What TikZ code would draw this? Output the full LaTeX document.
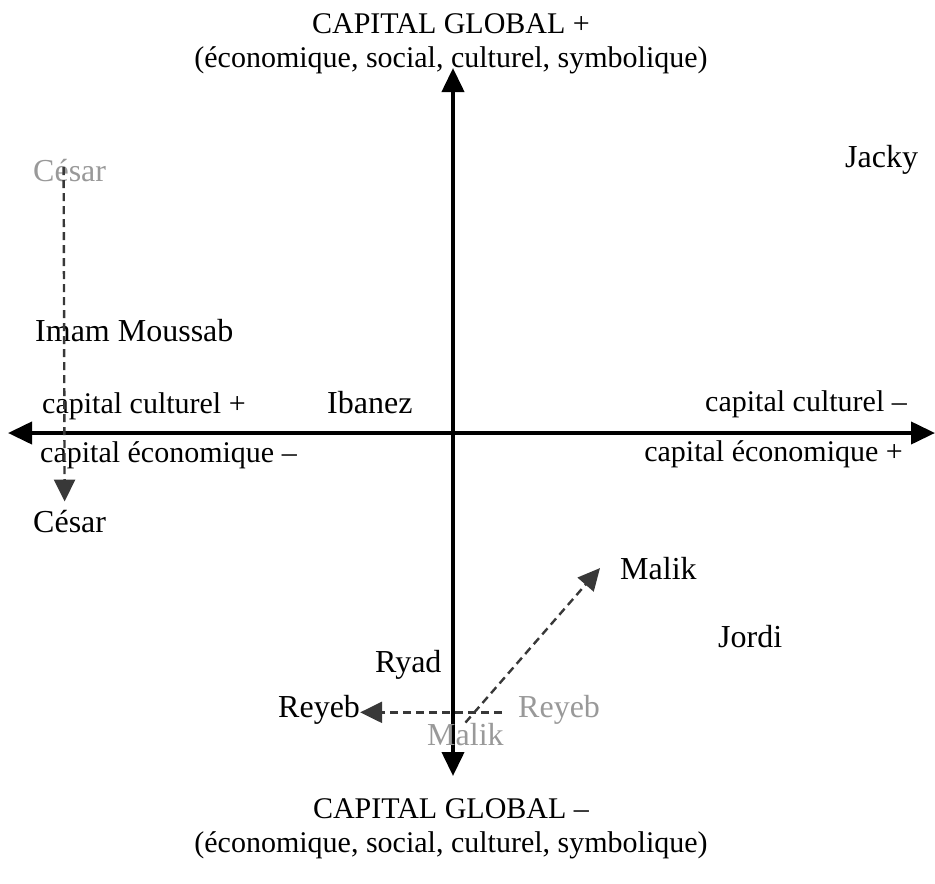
\documentclass[tikz,border=0pt]{standalone}
\usepackage{fontspec}
\setmainfont{Liberation Serif}
\usetikzlibrary{arrows.meta}

\begin{document}
\begin{tikzpicture}[x=1pt,y=-1pt,>={Triangle[length=24pt,width=22pt]},
  axe/.style={line width=4pt,<->},
  move/.style={line width=2.4pt,draw=black!78,dash pattern=on 8pt off 5pt,-{Triangle[length=22pt,width=21pt]}},
  nom/.style={font=\fontsize{32}{38}\selectfont,inner sep=0pt},
  pole/.style={font=\fontsize{30}{36}\selectfont,inner sep=0pt},
  avant/.style={nom,text=black!40}]
\useasboundingbox (0,0) rectangle (935,884);
\coordinate (haut) at (453,68);
\coordinate (bas) at (453,776);
\coordinate (gauche) at (8,433);
\coordinate (droite) at (935,433);
\draw[axe] (bas) -- (haut);
\draw[axe] (gauche) -- (droite);
\node[pole,anchor=base] (t1) at (451,33) {CAPITAL GLOBAL +};
\node[pole,anchor=base] (t2) at (451,67) {(économique, social, culturel, symbolique)};
\node[pole,anchor=base] (b1) at (451,818) {CAPITAL GLOBAL –};
\node[pole,anchor=base] (b2) at (451,852) {(économique, social, culturel, symbolique)};
\node[pole,anchor=base west] (cg) at (42,413) {capital culturel +};
\node[pole,anchor=base east] (cd) at (907,411) {capital culturel –};
\node[pole,anchor=base west] (eg) at (40,462) {capital économique –};
\node[pole,anchor=base east] (ed) at (903,461) {capital économique +};
% personnes
\node[nom,anchor=base west] (jacky) at (845,167) {Jacky};
\node[avant,anchor=base west] (cesarA) at (33,181) {César};
\node[nom,anchor=base west] (imam) at (35,341) {Imam Moussab};
\node[nom,anchor=base west] (ibanez) at (327,413) {Ibanez};
\node[nom,anchor=base west] (cesarB) at (33,532) {César};
\node[nom,anchor=base west] (malikB) at (620,579) {Malik};
\node[nom,anchor=base west] (jordi) at (718,647) {Jordi};
\node[nom,anchor=base west] (ryad) at (375,672) {Ryad};
\node[nom,anchor=base west] (reyebB) at (278,717) {Reyeb};
\node[avant,anchor=base west] (reyebA) at (518,717) {Reyeb};
\node[avant,anchor=base west] (malikA) at (427,745) {Malik};
% trajectoires
\draw[move] ([xshift=-6pt,yshift=3pt]cesarA.center) -- ([xshift=-5pt,yshift=8pt]cesarB.north);
\draw[move] ([xshift=-16pt,yshift=-3pt]reyebA.west) -- ([yshift=-3pt]reyebB.east);
\draw[move] (malikA.north) -- ([xshift=-20pt]malikB.west);
\end{tikzpicture}
\end{document}
